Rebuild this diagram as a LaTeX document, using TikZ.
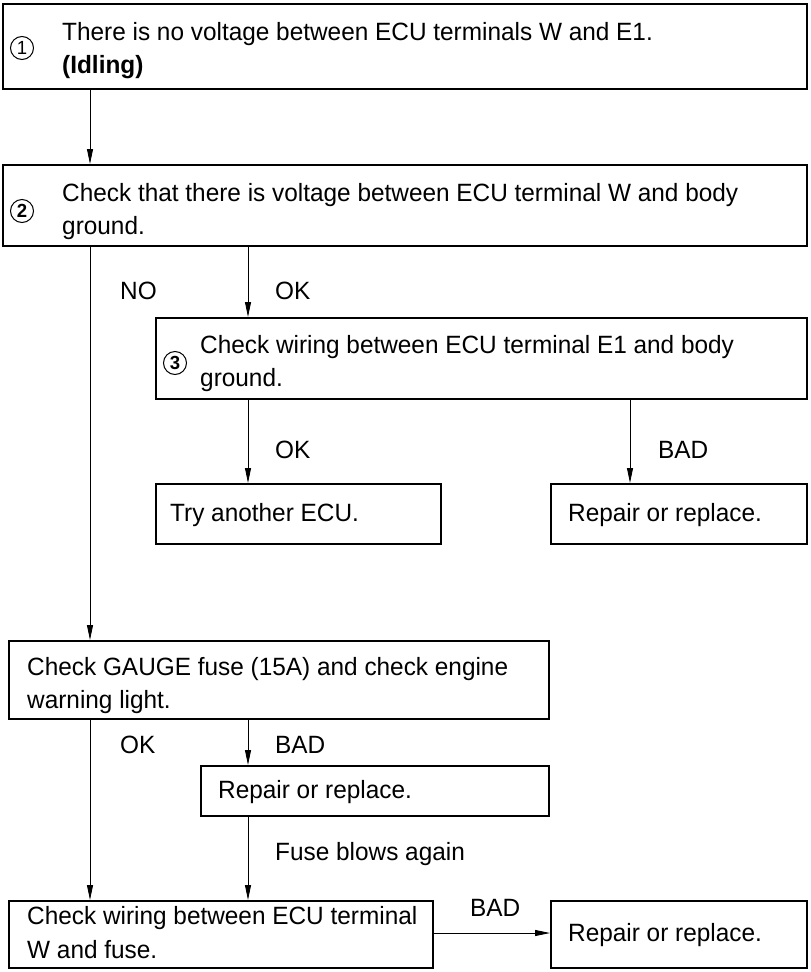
\documentclass[tikz,border=0pt]{standalone}
\usepackage{fontspec}
\setmainfont{Liberation Sans}[FakeStretch=0.975]
\usetikzlibrary{arrows.meta}
\begin{document}
\begin{tikzpicture}[x=1pt,y=-1pt,
  every node/.style={inner sep=0pt},
  box/.style={draw, line width=1.7pt, anchor=north west},
  txt/.style={anchor=base west, font=\fontsize{25}{33}\selectfont},
  circnum/.style={circle, draw, line width=1pt, minimum size=23pt,
    font=\fontsize{19}{19}\selectfont},
  conn/.style={line width=0.9pt},
  arr/.style={conn, -{Triangle[length=15pt,width=6pt]}}]
\useasboundingbox (0,0) rectangle (811,972);

% columns and rows used by the connectors
\coordinate (colA) at (90,0);
\coordinate (colB) at (248,0);
\coordinate (colC) at (630,0);
\coordinate (rowW) at (0,933);

% boxes
\node[box, minimum width=804pt, minimum height=85pt] (b1) at (2,3) {};
\node[box, minimum width=804pt, minimum height=81pt] (b2) at (2,164) {};
\node[box, minimum width=651pt, minimum height=81pt] (b3) at (155,317) {};
\node[box, minimum width=285pt, minimum height=60pt] (b4) at (155,483) {};
\node[box, minimum width=256pt, minimum height=60pt] (b5) at (550,483) {};
\node[box, minimum width=540pt, minimum height=78pt] (b6) at (8,640) {};
\node[box, minimum width=348pt, minimum height=50pt] (b7) at (200,765) {};
\node[box, minimum width=424pt, minimum height=67pt] (b8) at (8,900) {};
\node[box, minimum width=256pt, minimum height=67pt] (b9) at (550,900) {};

% step numbers
\node[circnum] (n1) at (22,48) {1};
\node[circnum] (n2) at (22,211) {\bfseries 2};
\node[circnum] (n3) at (175,363) {\bfseries 3};

% box texts
\node[txt] (t1a) at (62,40) {There is no voltage between ECU terminals W and E1.};
\node[txt] (t1b) at (62,73) {\bfseries (Idling)};
\node[txt] (t2a) at (62,201) {Check that there is voltage between ECU terminal W and body};
\node[txt] (t2b) at (62,234) {ground.};
\node[txt] (t3a) at (200,353) {Check wiring between ECU terminal E1 and body};
\node[txt] (t3b) at (200,386) {ground.};
\node[txt] (t4) at (170,521) {Try another ECU.};
\node[txt] (t5) at (568,521) {Repair or replace.};
\node[txt] (t6a) at (27,675) {Check GAUGE fuse (15A) and check engine};
\node[txt] (t6b) at (27,708) {warning light.};
\node[txt] (t7) at (218,798) {Repair or replace.};
\node[txt] (t8a) at (27,924) {Check wiring between ECU terminal};
\node[txt] (t8b) at (27,958) {W and fuse.};
\node[txt] (t9) at (568,941) {Repair or replace.};

% connectors
\draw[arr] (b1.south -| colA) -- (b2.north -| colA);
\draw[arr] (b2.south -| colA) -- (b6.north -| colA);
\draw[arr] (b2.south -| colB) -- (b3.north -| colB);
\draw[arr] (b3.south -| colB) -- (b4.north -| colB);
\draw[arr] (b3.south -| colC) -- (b5.north -| colC);
\draw[arr] (b6.south -| colA) -- (b8.north -| colA);
\draw[arr] (b6.south -| colB) -- (b7.north -| colB);
\draw[arr] (b7.south -| colB) -- (b8.north -| colB);
\draw[arr] (b8.east |- rowW) -- (b9.west |- rowW);

% branch labels
\node[txt] (lNO) at (120,299) {NO};
\node[txt] (lOK1) at (275,299) {OK};
\node[txt] (lOK2) at (275,458) {OK};
\node[txt] (lBAD1) at (658,458) {BAD};
\node[txt] (lOK3) at (120,753) {OK};
\node[txt] (lBAD2) at (275,753) {BAD};
\node[txt] (lFuse) at (275,860) {Fuse blows again};
\node[txt] (lBAD3) at (470,916) {BAD};
\end{tikzpicture}
\end{document}
